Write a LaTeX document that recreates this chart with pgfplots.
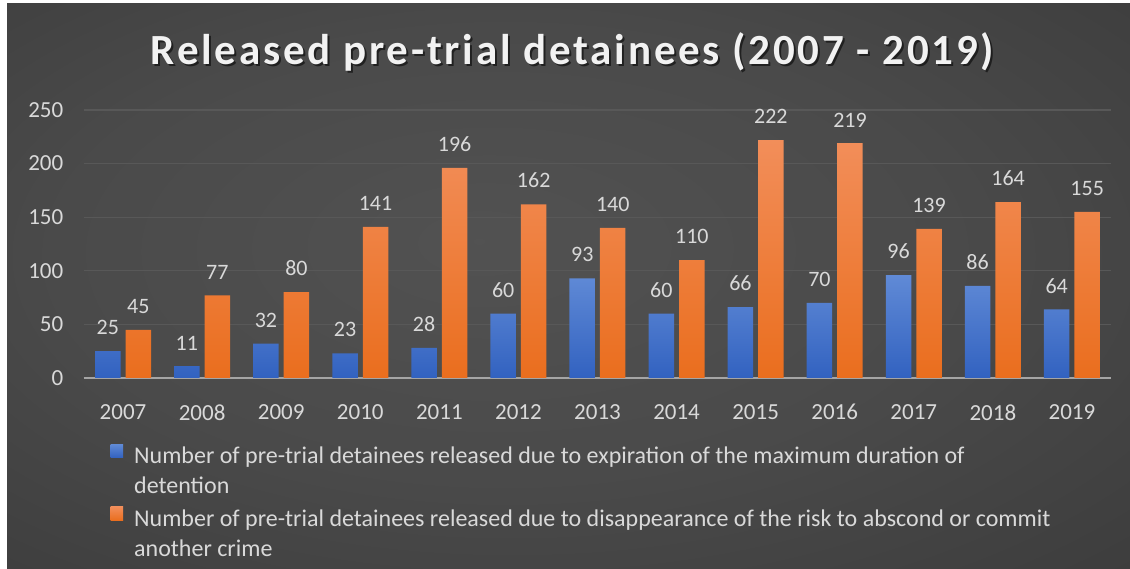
\documentclass[border=0pt]{standalone}
\usepackage{fontspec}
\setmainfont{Carlito}
\newfontfamily\titlefont[LetterSpace=6.5]{Carlito}
\usepackage{pgfplots}
\pgfplotsset{compat=1.18}

\definecolor{bluetop}{RGB}{96,138,214}
\definecolor{bluebot}{RGB}{50,98,192}
\definecolor{orangetop}{RGB}{242,142,90}
\definecolor{orangebot}{RGB}{234,110,30}
\definecolor{gridc}{RGB}{88,88,88}
\definecolor{zeroc}{RGB}{165,165,165}
\definecolor{labelc}{RGB}{217,217,217}

\pgfdeclareradialshading{bgshade}{\pgfpoint{-4bp}{4bp}}{%
  rgb(0bp)=(0.32,0.32,0.32); rgb(20bp)=(0.29,0.29,0.29); rgb(70bp)=(0.15,0.15,0.15)}

\begin{document}
\begin{tikzpicture}[x=1pt,y=1pt]
\path[use as bounding box] (0,0) rectangle (1130,569);
\fill[white] (0,0) rectangle (1130,569);
\shade[shading=bgshade] (7,0) rectangle (1130,565);

% title
\node[anchor=base, text=black, opacity=0.55, font=\titlefont\bfseries\fontsize{43}{48}\selectfont]
  at (574.5,502) {Released pre-trial detainees (2007 - 2019)};
\node[anchor=base, text=white!95!black, font=\titlefont\bfseries\fontsize{43}{48}\selectfont]
  at (572.5,504) {Released pre-trial detainees (2007 - 2019)};

\begin{axis}[
    at={(83.5pt,191pt)}, anchor=south west,
    scale only axis, width=1028pt, height=268pt,
    xmin=-0.5, xmax=12.5, ymin=0, ymax=250,
    ytick={0,50,...,250},
    xtick={0,...,12},
    xticklabels={2007,2008,2009,2010,2011,2012,2013,2014,2015,2016,2017,2018,2019},
    /pgf/number format/assume math mode=true,
    axis line style={draw=none},
    tick style={draw=none},
    ymajorgrids, grid style={gridc, line width=1.2pt},
    extra y ticks={0}, extra y tick labels={},
    extra y tick style={grid style={zeroc, line width=2pt}},
    tick label style={font=\fontsize{23}{26}\selectfont, text=labelc},
    yticklabel style={inner sep=0pt, xshift=-20pt},
    xticklabel style={inner sep=0pt, yshift=-22pt},
    ybar=5pt, bar width=25.5pt,
    nodes near coords,
    every node near coord/.append style={font=\fontsize{22}{26}\selectfont, text=labelc,
      anchor=south, inner sep=0pt, yshift=16pt},
    legend style={draw=none, fill=none, at={(24pt,-64pt)}, anchor=north west,
      font=\fontsize{24}{28}\selectfont, text=labelc,
      nodes={inner sep=0pt, text height=17pt, text depth=5pt}, row sep=8pt, column sep=11pt},
    legend cell align=left,
    legend image code/.code={\fill[#1] (0pt,0pt) rectangle (12.5pt,13.5pt);},
]
\addplot[draw=none, top color=bluetop, bottom color=bluebot] coordinates {
    (0,25)(1,11)(2,32)(3,23)(4,28)(5,60)(6,93)(7,60)(8,66)(9,70)(10,96)(11,86)(12,64)
};
\addlegendentry{Number of pre-trial detainees released due to expiration of the maximum duration of}
\addlegendimage{empty legend}
\addlegendentry{detention}
\addplot[draw=none, top color=orangetop, bottom color=orangebot] coordinates {
    (0,45)(1,77)(2,80)(3,141)(4,196)(5,162)(6,140)(7,110)(8,222)(9,219)(10,139)(11,164)(12,155)
};
\addlegendentry{Number of pre-trial detainees released due to disappearance of the risk to abscond or commit}
\addlegendimage{empty legend}
\addlegendentry{another crime}
\end{axis}
\end{tikzpicture}
\end{document}
